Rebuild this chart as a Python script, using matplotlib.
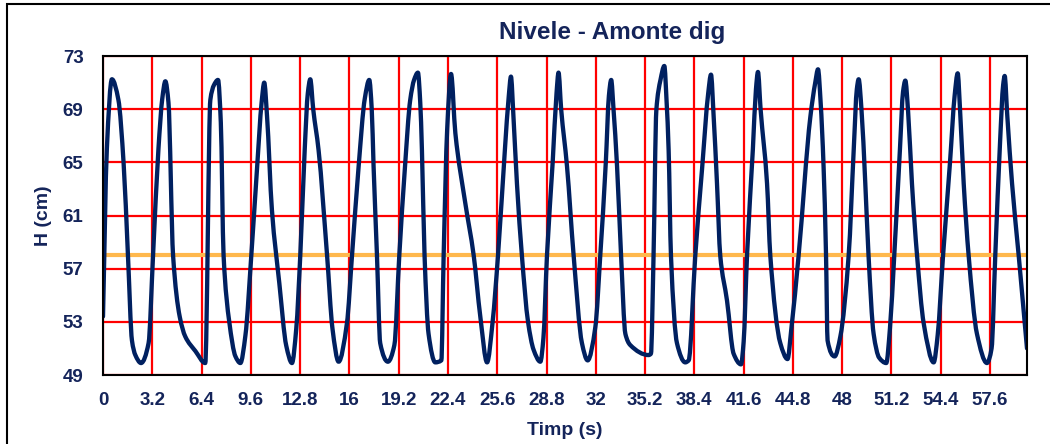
import matplotlib.pyplot as plt
import numpy as np
from matplotlib.patches import Rectangle, PathPatch
from matplotlib.path import Path

plt.rcParams['font.family'] = ['Liberation Sans', 'DejaVu Sans']

# Water level upstream of the dike (time in s, level in cm)
timp = [
    0.0, 0.25, 0.58, 1.0, 1.34, 1.62, 1.88, 2.1, 2.47, 2.96,
    3.25, 3.6, 3.85, 4.05, 4.25, 4.55, 4.98, 5.34, 6.0, 6.64,
    6.97, 7.2, 7.47, 7.65, 7.83, 8.2, 8.6, 8.92, 9.25,
    9.63, 10.0, 10.3, 10.47, 10.65, 10.97, 11.45, 11.9, 12.27, 12.55,
    12.81, 13.1, 13.3, 13.46, 13.65, 14.0, 14.55, 14.9, 15.3, 15.84,
    16.17, 16.6, 17.0, 17.29, 17.45, 17.57, 17.79, 18.0, 18.5, 18.92,
    19.24, 19.6, 19.95, 20.2, 20.45, 20.6, 20.71, 20.88, 21.14, 21.58,
    21.97, 22.12, 22.35, 22.6, 22.88, 23.53, 24.07, 24.5, 24.94, 25.3,
    25.65, 26.1, 26.35, 26.49, 26.65, 26.88, 27.2, 27.6, 27.96, 28.4,
    28.6, 28.83, 29.2, 29.45, 29.58, 29.75, 30.13, 30.56, 31.1, 31.47,
    31.97, 32.29, 32.65, 32.85, 33.0, 33.15, 33.38, 33.64, 33.92, 34.24,
    35.43, 35.58, 35.75, 35.93, 36.2, 36.45, 36.6, 36.73, 36.88, 37.27,
    37.81, 38.03, 38.46, 38.9, 39.3, 39.48, 39.65, 39.87, 40.08, 40.52,
    40.95, 41.43, 41.6, 41.82, 42.2, 42.4, 42.53, 42.7, 43.12, 43.33,
    43.98, 44.45, 44.7, 45.17, 45.93, 46.25, 46.43, 46.6, 46.79, 46.95,
    47.05, 47.51, 47.88, 48.42, 48.75, 48.95, 49.07, 49.25, 49.5, 49.71,
    50.04, 50.4, 50.86, 51.1, 51.38, 51.75, 51.95, 52.1, 52.28, 52.53,
    52.86, 53.29, 53.94, 54.2, 54.55, 55.0, 55.3, 55.5, 55.65, 55.89,
    56.21, 56.75, 57.4, 57.7, 57.94, 58.25, 58.45, 58.55, 58.72, 59.03,
    59.46, 60.0,
]
nivel = [
    53.4, 66.0, 71.25, 69.7, 64.9, 58.0, 51.6, 50.5, 49.9, 51.4,
    58.0, 66.0, 69.8, 71.1, 69.5, 58.0, 53.4, 51.9, 50.8, 49.9,
    69.7, 70.8, 71.2, 68.0, 58.0, 53.0, 50.4, 49.9, 52.0,
    58.0, 64.5, 69.5, 71.0, 68.5, 61.4, 55.9, 51.2, 49.9, 52.5,
    58.0, 66.0, 70.2, 71.25, 69.0, 65.9, 58.0, 52.5, 50.0, 52.9,
    58.0, 64.7, 69.8, 71.2, 69.0, 64.7, 58.0, 51.4, 50.0, 51.25,
    58.0, 64.5, 69.7, 71.2, 71.75, 69.5, 65.9, 58.0, 52.1, 49.95,
    50.1, 58.0, 67.5, 71.65, 67.2, 61.9, 58.0, 53.4, 49.95, 53.0,
    58.0, 66.0, 70.0, 71.45, 68.5, 63.4, 58.0, 53.0, 50.9, 50.0,
    51.8, 58.0, 65.0, 70.2, 71.75, 69.0, 64.7, 58.0, 51.4, 50.1,
    52.6, 58.0, 65.0, 70.0, 71.2, 69.0, 64.7, 58.0, 52.1, 51.25,
    50.5, 50.6, 58.0, 68.9, 71.2, 72.25, 69.5, 65.9, 58.0, 51.4,
    49.95, 50.1, 58.0, 64.5, 70.2, 71.6, 68.5, 63.4, 58.0, 54.6,
    50.6, 49.8, 51.5, 58.0, 66.0, 70.5, 71.8, 69.0, 63.4, 58.0,
    51.4, 50.2, 52.5, 58.0, 68.4, 71.0, 72.0, 69.5, 64.7, 58.0,
    51.6, 50.4, 51.9, 58.0, 66.0, 70.5, 71.25, 69.0, 63.4, 58.0,
    52.1, 50.3, 49.9, 52.5, 58.0, 66.0, 70.3, 71.15, 68.8, 63.4,
    58.0, 52.9, 49.95, 52.0, 58.0, 65.0, 70.0, 71.7, 69.0, 63.4,
    58.0, 52.1, 49.9, 51.0, 58.0, 66.5, 70.8, 71.5, 68.5, 63.4,
    58.0, 51.0,
]
nivel_mediu = 58.0

x_ticks = [0, 3.2, 6.4, 9.6, 12.8, 16, 19.2, 22.4, 25.6, 28.8, 32,
           35.2, 38.4, 41.6, 44.8, 48, 51.2, 54.4, 57.6]
x_labels = ['0', '3.2', '6.4', '9.6', '12.8', '16', '19.2', '22.4', '25.6',
            '28.8', '32', '35.2', '38.4', '41.6', '44.8', '48', '51.2',
            '54.4', '57.6']
y_ticks = [49, 53, 57, 61, 65, 69, 73]

navy = '#002060'
text_col = '#14245a'


def smooth_path(x, y):
    """Bezier path through the points (monotone tangents, no overshoot)."""
    x = np.asarray(x, float)
    y = np.asarray(y, float)
    h = np.diff(x)
    d = np.diff(y) / h
    m = np.zeros_like(y)
    m[0], m[-1] = d[0], d[-1]
    for k in range(1, len(x) - 1):
        if d[k - 1] * d[k] > 0:
            w1 = 2 * h[k] + h[k - 1]
            w2 = h[k] + 2 * h[k - 1]
            m[k] = (w1 + w2) / (w1 / d[k - 1] + w2 / d[k])
    verts = [(x[0], y[0])]
    codes = [Path.MOVETO]
    for k in range(len(h)):
        verts += [(x[k] + h[k] / 3, y[k] + m[k] * h[k] / 3),
                  (x[k + 1] - h[k] / 3, y[k + 1] - m[k + 1] * h[k] / 3),
                  (x[k + 1], y[k + 1])]
        codes += [Path.CURVE4] * 3
    return Path(verts, codes)


fig = plt.figure(figsize=(10.5, 4.44), dpi=100)
ax = fig.add_axes([103 / 1050, 1 - 375 / 444, 924 / 1050, 319 / 444])

# outer chart border
fig.patches.append(Rectangle((7 / 1050, -0.01), 1.1, 1 - 4 / 444 + 0.01,
                             transform=fig.transFigure, fill=False,
                             edgecolor='black', linewidth=1.5, zorder=0))

ax.add_patch(PathPatch(smooth_path(timp, nivel), fill=False, edgecolor=navy,
                       linewidth=3.1, joinstyle='round', capstyle='round',
                       zorder=4))
ax.axhline(nivel_mediu, color='#FFB84D', linewidth=3.0, zorder=3)

ax.set_xlim(0, 60)
ax.set_ylim(49, 73)
ax.set_xticks(x_ticks)
ax.set_xticklabels(x_labels)
ax.set_yticks(y_ticks)
ax.grid(True, color='#ff0000', linewidth=1.6, zorder=1)
ax.set_axisbelow(True)

for s in ax.spines.values():
    s.set_color('black')
    s.set_linewidth(1.5)
    s.set_zorder(5)

ax.tick_params(axis='both', length=0, labelsize=13.5, labelcolor=text_col)
ax.tick_params(axis='y', pad=14)
ax.tick_params(axis='x', pad=12)
for lbl in ax.get_xticklabels() + ax.get_yticklabels():
    lbl.set_fontweight('bold')

fig.text(612 / 1050, 1 - 32 / 444, 'Nivele - Amonte dig', ha='center',
         va='center', fontsize=17.5, fontweight='bold', color=text_col)
fig.text(565 / 1050, 1 - 430 / 444, 'Timp (s)', ha='center', va='center',
         fontsize=14, fontweight='bold', color=text_col)
fig.text(44 / 1050, 1 - 216 / 444, 'H (cm)', ha='center', va='center',
         rotation=90, fontsize=14, fontweight='bold', color=text_col)

fig.savefig('out.png', dpi=100)
